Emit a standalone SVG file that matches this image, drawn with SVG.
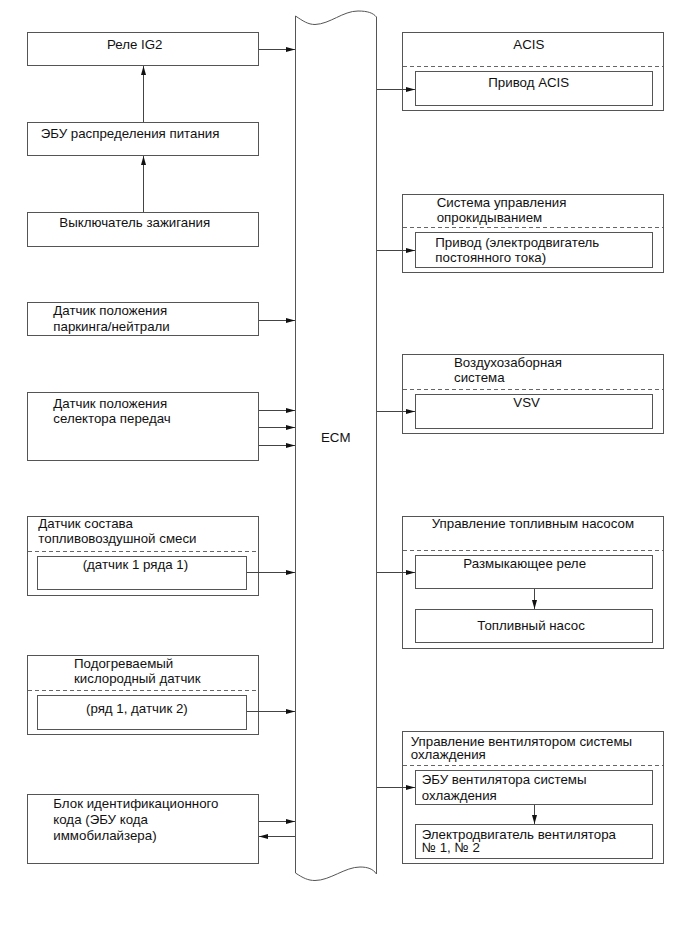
<svg xmlns="http://www.w3.org/2000/svg" width="690" height="952" viewBox="0 0 690 952">
<defs>
<style>
.b{fill:none;stroke:#555;stroke-width:1}
.d{fill:none;stroke:#666;stroke-width:1;stroke-dasharray:4 3}
.c{fill:none;stroke:#444;stroke-width:1}
text{font-family:"Liberation Sans",Arial,sans-serif;font-size:13.3px;fill:#111}
</style>
<marker id="ah" markerUnits="userSpaceOnUse" markerWidth="10" markerHeight="6" refX="9" refY="3" orient="auto">
<path d="M0,0.5 L9,3 L0,5.5 Z" fill="#111"/>
</marker>
</defs>
<rect width="690" height="952" fill="#fff"/>

<g id="ecm">
<path class="b" d="M295.5,873 L295.5,16 C303,21 308,24.5 315,24.5 C330,24 343,11 358,11 C368,11 373,13 376.5,17 L376.5,874 C373,869 368,867 360,867 C345,867 330,880.5 315,880.5 C308,880.5 303,878 295.5,873 Z"/>
<text x="321" y="442">ECM</text>
</g>

<g id="rele-ig2">
<rect class="b" x="27.5" y="32.5" width="231" height="33"/>
<text x="107" y="49">Реле IG2</text>
</g>
<g id="ebu-power">
<rect class="b" x="27.5" y="122.5" width="231" height="33"/>
<text x="40.7" y="138">ЭБУ распределения питания</text>
</g>
<g id="ignition">
<rect class="b" x="27.5" y="212.5" width="231" height="34"/>
<text x="59.3" y="226.7">Выключатель зажигания</text>
</g>
<g id="park-neutral">
<rect class="b" x="27.5" y="302.5" width="231" height="33"/>
<text x="53.3" y="315">Датчик положения</text>
<text x="53.3" y="330.5">паркинга/нейтрали</text>
</g>
<g id="selector">
<rect class="b" x="27.5" y="392.5" width="231" height="68"/>
<text x="53.3" y="408.3">Датчик положения</text>
<text x="53.3" y="423">селектора передач</text>
</g>
<g id="af-sensor">
<rect class="b" x="27.5" y="516.5" width="231" height="79"/>
<line class="d" x1="28" y1="551.5" x2="258" y2="551.5"/>
<rect class="b" x="37.5" y="556.5" width="209" height="33"/>
<text x="38.3" y="527.7">Датчик состава</text>
<text x="38.3" y="542.7">топливовоздушной смеси</text>
<text x="82.7" y="569.3">(датчик 1 ряда 1)</text>
</g>
<g id="o2-sensor">
<rect class="b" x="27.5" y="655.5" width="231" height="79"/>
<line class="d" x1="28" y1="690.5" x2="258" y2="690.5"/>
<rect class="b" x="37.5" y="695.5" width="209" height="34"/>
<text x="74" y="667.7">Подогреваемый</text>
<text x="74" y="682.7">кислородный датчик</text>
<text x="86" y="713.3">(ряд 1, датчик 2)</text>
</g>
<g id="immobilizer">
<rect class="b" x="27.5" y="794.5" width="231" height="69"/>
<text x="53.3" y="808">Блок идентификационного</text>
<text x="53.3" y="824">кода (ЭБУ кода</text>
<text x="53.3" y="840">иммобилайзера)</text>
</g>

<g id="acis">
<rect class="b" x="402.5" y="32.5" width="261" height="78"/>
<line class="d" x1="403" y1="66.5" x2="663" y2="66.5"/>
<rect class="b" x="415.5" y="71.5" width="237" height="34"/>
<text x="513.3" y="49">ACIS</text>
<text x="488.3" y="87.3">Привод ACIS</text>
</g>
<g id="tumble">
<rect class="b" x="402.5" y="194.5" width="261" height="78"/>
<line class="d" x1="403" y1="227.5" x2="663" y2="227.5"/>
<rect class="b" x="415.5" y="232.5" width="237" height="35"/>
<text x="436.7" y="206.7">Система управления</text>
<text x="436.7" y="221.7">опрокидыванием</text>
<text x="435.3" y="247.3">Привод (электродвигатель</text>
<text x="435.3" y="262.3">постоянного тока)</text>
</g>
<g id="intake">
<rect class="b" x="402.5" y="354.5" width="261" height="79"/>
<line class="d" x1="403" y1="389.5" x2="663" y2="389.5"/>
<rect class="b" x="415.5" y="394.5" width="237" height="34"/>
<text x="454" y="366.7">Воздухозаборная</text>
<text x="454" y="381.7">система</text>
<text x="513.3" y="406.7">VSV</text>
</g>
<g id="fuel-pump-control">
<rect class="b" x="402.5" y="516.5" width="261" height="132"/>
<line class="d" x1="403" y1="550.5" x2="663" y2="550.5"/>
<rect class="b" x="415.5" y="555.5" width="237" height="33"/>
<rect class="b" x="415.5" y="609.5" width="237" height="33"/>
<text x="431.7" y="528.3">Управление топливным насосом</text>
<text x="463.3" y="568.3">Размыкающее реле</text>
<text x="477.3" y="630">Топливный насос</text>
</g>
<g id="fan-control">
<rect class="b" x="402.5" y="731.5" width="261" height="132"/>
<line class="d" x1="403" y1="765.5" x2="663" y2="765.5"/>
<rect class="b" x="415.5" y="770.5" width="237" height="34"/>
<rect class="b" x="415.5" y="824.5" width="237" height="34"/>
<text x="410.7" y="745.5">Управление вентилятором системы</text>
<text x="410.7" y="759">охлаждения</text>
<text x="421.7" y="784.3">ЭБУ вентилятора системы</text>
<text x="421.7" y="800">охлаждения</text>
<text x="421.7" y="838.5">Электродвигатель вентилятора</text>
<text x="421.7" y="852">№ 1, № 2</text>
</g>

<g id="connectors">
<line class="c" x1="259" y1="49.5" x2="295" y2="49.5" marker-end="url(#ah)"/>
<line class="c" x1="143.5" y1="122" x2="143.5" y2="66" marker-end="url(#ah)"/>
<line class="c" x1="143.5" y1="212" x2="143.5" y2="156" marker-end="url(#ah)"/>
<line class="c" x1="259" y1="320.5" x2="295" y2="320.5" marker-end="url(#ah)"/>
<line class="c" x1="259" y1="410.5" x2="295" y2="410.5" marker-end="url(#ah)"/>
<line class="c" x1="259" y1="427.5" x2="295" y2="427.5" marker-end="url(#ah)"/>
<line class="c" x1="259" y1="445.5" x2="295" y2="445.5" marker-end="url(#ah)"/>
<line class="c" x1="247" y1="572.5" x2="295" y2="572.5" marker-end="url(#ah)"/>
<line class="c" x1="247" y1="711.5" x2="295" y2="711.5" marker-end="url(#ah)"/>
<line class="c" x1="259" y1="821.5" x2="295" y2="821.5" marker-end="url(#ah)"/>
<line class="c" x1="295" y1="836.5" x2="259" y2="836.5" marker-end="url(#ah)"/>
<line class="c" x1="377" y1="89.5" x2="415" y2="89.5" marker-end="url(#ah)"/>
<line class="c" x1="377" y1="250.5" x2="415" y2="250.5" marker-end="url(#ah)"/>
<line class="c" x1="377" y1="411.5" x2="415" y2="411.5" marker-end="url(#ah)"/>
<line class="c" x1="377" y1="572.5" x2="415" y2="572.5" marker-end="url(#ah)"/>
<line class="c" x1="377" y1="787.5" x2="415" y2="787.5" marker-end="url(#ah)"/>
<line class="c" x1="534.5" y1="589" x2="534.5" y2="609" marker-end="url(#ah)"/>
<line class="c" x1="534.5" y1="805" x2="534.5" y2="824" marker-end="url(#ah)"/>
</g>
</svg>
